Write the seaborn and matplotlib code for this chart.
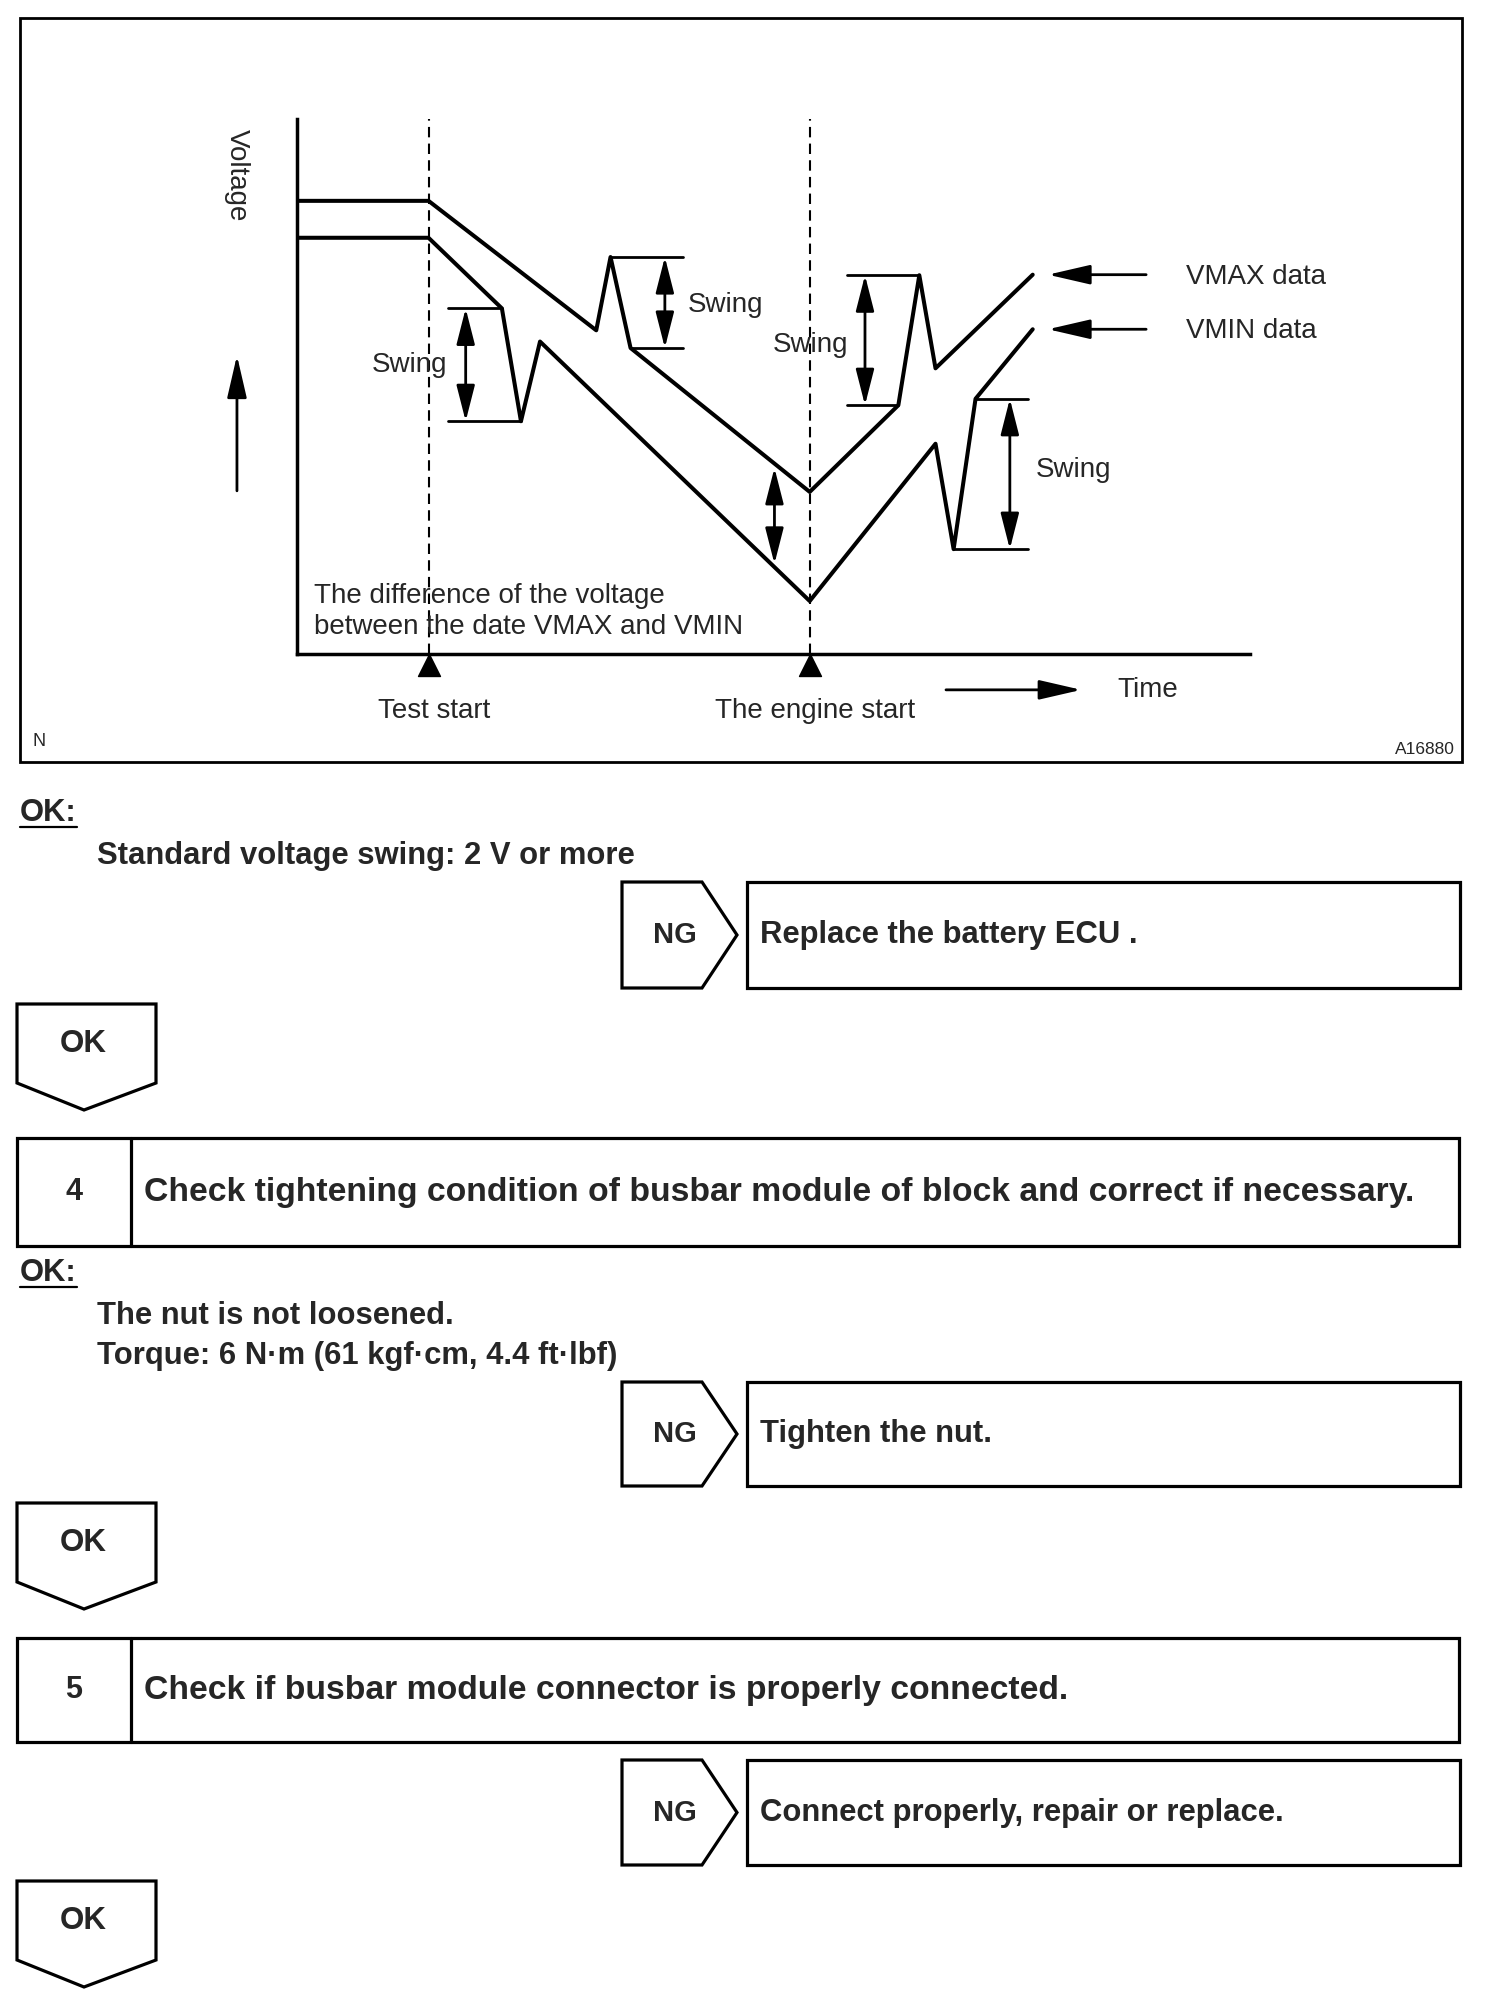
import numpy as np
import pandas as pd
import seaborn as sns
from matplotlib import pyplot as plt
from matplotlib.patches import Polygon, Rectangle

# Diagram data: time and voltage in arbitrary 0-100 units
vmax_time = [0, 13.8, 31.4, 32.9, 35.0, 53.8, 63.1, 65.3, 67.0, 77.2]
vmax_volt = [84.7, 84.7, 60.5, 74.2, 57.2, 30.3, 46.5, 70.8, 53.4, 70.9]
vmin_time = [0, 13.8, 21.5, 23.5, 25.5, 53.8, 67.0, 68.9, 71.2, 77.2]
vmin_volt = [77.8, 77.8, 64.6, 43.5, 58.4, 9.9, 39.3, 19.6, 47.7, 60.7]

event_time = [13.8, 53.8]
event_labels = ['Test start', 'The engine start']

# swing markers: which line, index of the high and low vertex, time of the arrow
swing_series = ['VMIN', 'VMAX', 'VMAX', 'VMIN']
swing_hi_idx = [2, 3, 7, 8]
swing_lo_idx = [3, 4, 6, 7]
swing_arrow_time = [17.7, 38.6, 59.6, 74.8]
diff_time = 50.1

# Flowchart text
ok_specs = [['Standard voltage swing: 2 V or more'],
            ['The nut is not loosened.', 'Torque: 6 N·m (61 kgf·cm, 4.4 ft·lbf)']]
ng_actions = ['Replace the battery ECU .', 'Tighten the nut.',
              'Connect properly, repair or replace.']
step_numbers = ['4', '5']
step_titles = ['Check tightening condition of busbar module of block and correct if necessary.',
               'Check if busbar module connector is properly connected.']

sns.set_theme(style='white')
plt.rcParams['font.family'] = ['Liberation Sans', 'DejaVu Sans']

fig = plt.figure(figsize=(15.04, 20.10), dpi=100)

# page axes in pixel units for the frame and the flowchart
page = fig.add_axes([0, 0, 1, 1])
page.set_xlim(0, 1504)
page.set_ylim(2010, 0)
page.axis('off')

# chart axes, its left/bottom spines are the diagram axes
ax = fig.add_axes([297 / 1504, 1 - 654 / 2010, (1250 - 297) / 1504, (654 - 119) / 2010])
ax.set_facecolor('none')

df = pd.concat([
    pd.DataFrame({'time': vmax_time, 'voltage': vmax_volt, 'series': 'VMAX'}),
    pd.DataFrame({'time': vmin_time, 'voltage': vmin_volt, 'series': 'VMIN'}),
])
sns.lineplot(data=df, x='time', y='voltage', hue='series', estimator=None, sort=False,
             palette=['black', 'black'], lw=2.9, legend=False, ax=ax)

ax.set_xlim(0, 100)
ax.set_ylim(0, 100)
ax.set(xlabel='', ylabel='', xticks=[], yticks=[])
for side in ['top', 'right']:
    ax.spines[side].set_visible(False)
for side in ['left', 'bottom']:
    ax.spines[side].set_color('black')
    ax.spines[side].set_linewidth(2.5)

# event markers
for t, lab in zip(event_time, event_labels):
    ax.axvline(t, color='black', lw=1.5, ls=(0, (5, 3)))
    ax.text(t + 0.6, -10.6, lab, ha='center', va='center', fontsize=20)
ax.scatter(event_time, [-2.0] * len(event_time), marker='^', s=250, color='black',
           clip_on=False, zorder=5)

arrow_both = dict(arrowstyle='<|-|>,head_length=1.1,head_width=0.28', mutation_scale=20,
                  lw=2.0, color='black', shrinkA=0, shrinkB=0)
arrow_one = dict(arrowstyle='-|>,head_length=1.3,head_width=0.3', mutation_scale=20,
                 lw=2.0, color='black', shrinkA=0, shrinkB=0)

lines = {'VMAX': (vmax_time, vmax_volt), 'VMIN': (vmin_time, vmin_volt)}
swing_label_pos = [(11.8, 54.0), (45.0, 65.2), (53.9, 57.8), (81.5, 34.4)]
for s, hi, lo, a, pos in zip(swing_series, swing_hi_idx, swing_lo_idx, swing_arrow_time, swing_label_pos):
    tt, vv = lines[s]
    for idx in (hi, lo):
        end = a + 1.9 * np.sign(a - tt[idx])
        ax.plot([tt[idx], end], [vv[idx], vv[idx]], color='black', lw=2.0)
    ax.annotate('', xy=(a, vv[hi]), xytext=(a, vv[lo]), arrowprops=arrow_both)
    ax.text(pos[0], pos[1], 'Swing', ha='center', va='center', fontsize=20)

# difference between VMAX and VMIN
d_hi = np.interp(diff_time, vmax_time, vmax_volt) - 0.8
d_lo = np.interp(diff_time, vmin_time, vmin_volt) + 0.6
ax.annotate('', xy=(diff_time, d_hi), xytext=(diff_time, d_lo), arrowprops=arrow_both)
ax.text(1.8, 7.9, 'The difference of the voltage\nbetween the date VMAX and VMIN',
        ha='left', va='center', fontsize=20, linespacing=1.25)

# series labels
for name, (tt, vv) in lines.items():
    ax.annotate('', xy=(tt[-1] + 1.6, vv[-1]), xytext=(89.1, vv[-1]), arrowprops=arrow_one,
                annotation_clip=False)
    ax.text(93.3, vv[-1] - 0.4, name + ' data', ha='left', va='center', fontsize=20)

# axis captions
ax.annotate('', xy=(82.3, -6.7), xytext=(68.1, -6.7), arrowprops=arrow_one, annotation_clip=False)
ax.text(86.1, -6.7, 'Time', ha='left', va='center', fontsize=20)
ax.annotate('', xy=(-6.3, 55.8), xytext=(-6.3, 30.5), arrowprops=arrow_one, annotation_clip=False)
ax.text(-6.3, 89.5, 'Voltage', rotation=270, ha='center', va='center', fontsize=20)

# frame around the figure
page.add_patch(Rectangle((20, 18), 1442, 744, fill=False, lw=2.0, ec='black'))
page.text(32, 741, 'N', ha='left', va='center', fontsize=13)
page.text(1455, 749, 'A16880', ha='right', va='center', fontsize=12.5)

# flowchart
fs = 22.3
fs_step = 24.3
box_lw = 2.3


def ok_note(y, lines_):
    page.text(20, y, 'OK:', ha='left', va='center', fontsize=fs, fontweight='bold')
    page.plot([20, 77], [y + 14, y + 14], color='black', lw=1.6)
    for k, line in enumerate(lines_):
        page.text(97, y + 43 + 40 * k, line, ha='left', va='center', fontsize=fs, fontweight='bold')


def ng_box(top, bottom, action):
    mid = (top + bottom) / 2
    page.add_patch(Polygon([(622, top), (702, top), (737, mid), (702, bottom), (622, bottom)],
                           closed=True, fill=False, lw=box_lw, ec='black'))
    page.add_patch(Rectangle((747, top), 1460 - 747, bottom - top, fill=False, lw=box_lw, ec='black'))
    page.text(675, mid, 'NG', ha='center', va='center', fontsize=21, fontweight='bold')
    page.text(760, mid, action, ha='left', va='center', fontsize=fs, fontweight='bold')


def ok_arrow(top):
    page.add_patch(Polygon([(17, top), (156, top), (156, top + 79), (84, top + 106), (17, top + 79)],
                           closed=True, fill=False, lw=box_lw, ec='black'))
    page.text(83, top + 40, 'OK', ha='center', va='center', fontsize=22.5, fontweight='bold')


def step_box(top, bottom, num, title):
    mid = (top + bottom) / 2
    page.add_patch(Rectangle((17, top), 1459 - 17, bottom - top, fill=False, lw=box_lw, ec='black'))
    page.plot([131, 131], [top, bottom], color='black', lw=box_lw)
    page.text(74, mid, num, ha='center', va='center', fontsize=22, fontweight='bold')
    page.text(144, mid, title, ha='left', va='center', fontsize=fs_step, fontweight='bold')


ok_note(813, ok_specs[0])
ng_box(882, 988, ng_actions[0])
ok_arrow(1004)
step_box(1138, 1246, step_numbers[0], step_titles[0])
ok_note(1273, ok_specs[1])
ng_box(1382, 1486, ng_actions[1])
ok_arrow(1503)
step_box(1638, 1742, step_numbers[1], step_titles[1])
ng_box(1760, 1865, ng_actions[2])
ok_arrow(1881)

fig.savefig('out.png', dpi=100, facecolor='white')
